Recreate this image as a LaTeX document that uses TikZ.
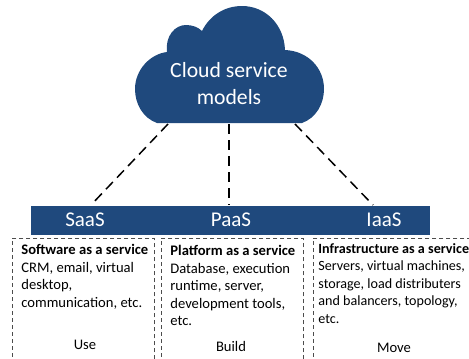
\documentclass[tikz,border=0pt]{standalone}
\usepackage{fontspec}
\setmainfont{Carlito}
\definecolor{cloudblue}{RGB}{31,73,125}
\tikzset{
	modelname/.style={text=white,font=\fontsize{21}{23}\selectfont},
	modelbox/.style={draw=black!70,dash pattern=on 4pt off 3pt,thick,anchor=north west,minimum height=140pt},
	modeltext/.style={anchor=north west,align=left,inner sep=0pt,font=\fontsize{14.6}{17.5}\selectfont},
	modeluse/.style={font=\fontsize{14.6}{16}\selectfont},
	spoke/.style={line width=1.5pt,dash pattern=on 10pt off 6pt}
}
\begin{document}
\begin{tikzpicture}[x=1pt,y=-1pt,thick]
	\useasboundingbox (0,0) rectangle (469,359);
	\clip (0,0) rectangle (469,359);

	\fill[cloudblue] (157,123) .. controls (143,118) and (135,104) .. (135,89)
		.. controls (135,70) and (150,54) .. (167,52)
		.. controls (165,36) and (175,25) .. (186,25)
		.. controls (192,25) and (198,27) .. (202,31)
		.. controls (210,15) and (225,6) .. (242,6)
		.. controls (265,6) and (284,24) .. (285,50)
		.. controls (308,51) and (324,68) .. (324,89)
		.. controls (324,104) and (316,118) .. (302,123) -- cycle;
	\node[text=white,align=center,font=\fontsize{21.7}{27}\selectfont] (cloudname) at (229,84) {Cloud service\\models};

	\fill[cloudblue] (31,206) rectangle (430,235);
	\node[modelname] (saas) at (85,220) {SaaS};
	\node[modelname] (paas) at (231,220) {PaaS};
	\node[modelname] (iaas) at (384,220) {IaaS};

	\coordinate (leftfoot) at (168,124);
	\coordinate (midfoot) at (229,124);
	\coordinate (rightfoot) at (295,124);
	\coordinate (saastop) at (91,205);
	\coordinate (paastop) at (229,205);
	\coordinate (iaastop) at (373,205);
	\draw[spoke] (leftfoot) -- (saastop);
	\draw[spoke] (midfoot) -- (paastop);
	\draw[spoke] (rightfoot) -- (iaastop);

	\node[modelbox,minimum width=142pt] (softbox) at (12,238) {};
	\node[modelbox,minimum width=142pt] (platbox) at (161,238) {};
	\node[modelbox,minimum width=170pt] (infrabox) at (313,238) {};

	\node[modeltext] (softtext) at (21,244) {\textbf{Software as a service}\\CRM, email, virtual\\desktop,\\communication, etc.};
	\node[modeltext] (plattext) at (170,245) {\textbf{Platform as a service}\\Database, execution\\runtime, server,\\development tools,\\etc.};
	\node[modeltext,font=\fontsize{14.1}{17.5}\selectfont] (infratext) at (318,243) {\textbf{Infrastructure as a service}\\Servers, virtual machines,\\storage, load distributers\\and balancers, topology,\\etc.};

	\node[modeluse] (softuse) at (85,345) {Use};
	\node[modeluse] (platuse) at (231,346) {Build};
	\node[modeluse] (infrause) at (394,348) {Move};
\end{tikzpicture}
\end{document}
